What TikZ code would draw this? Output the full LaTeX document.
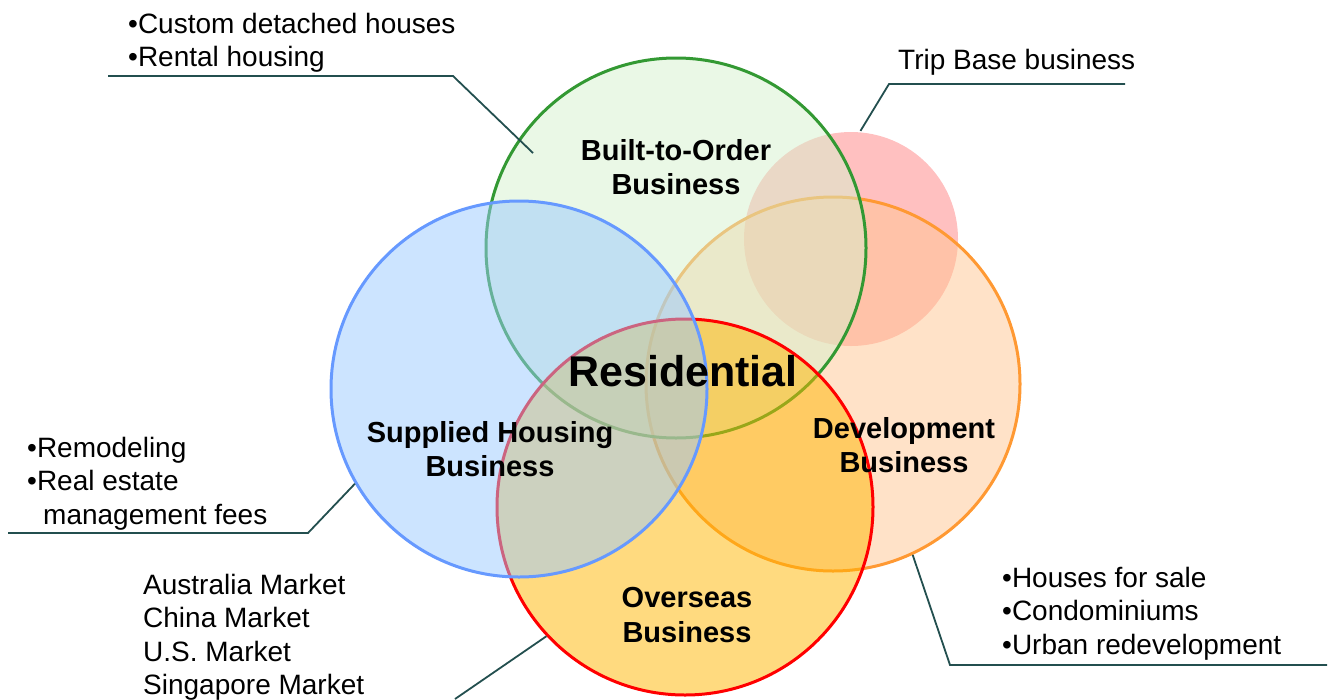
\documentclass[tikz,border=0pt]{standalone}
\usepackage{fontspec}
\setmainfont{Liberation Sans}
\usetikzlibrary{positioning}

\definecolor{leadcol}{HTML}{234F4F}
\definecolor{btofill}{HTML}{D5F1CD}
\definecolor{btoline}{HTML}{339933}
\definecolor{supfill}{HTML}{99C9FF}
\definecolor{supline}{HTML}{6699FF}
\definecolor{devfill}{HTML}{FFC591}
\definecolor{devline}{HTML}{FF9933}
\definecolor{ovsfill}{HTML}{FFB500}
\definecolor{ovsline}{HTML}{FF0000}
\definecolor{tripfill}{HTML}{FF8181}

\tikzset{
  biz/.style={circle, inner sep=0pt, line width=3pt, fill opacity=0.5, draw opacity=1},
  bizname/.style={font=\bfseries\fontsize{29}{34.5}\selectfont, align=center, inner sep=0pt},
  note/.style={font=\fontsize{28}{33.5}\selectfont, align=left, anchor=west, inner sep=0pt},
  leader/.style={draw=leadcol, line width=1.8pt}
}

\begin{document}
\begin{tikzpicture}[x=1pt, y=-1pt]
\useasboundingbox (0,0) rectangle (1329,699);

% circles, back to front
\node[biz, fill=tripfill, minimum size=214pt] (trip) at (851,239) {};
\node[biz, fill=devfill, draw=devline, minimum size=374pt] (dev) at (833,384) {};
\node[biz, fill=btofill, draw=btoline, minimum size=380pt] (bto) at (676,248) {};
\node[biz, fill=ovsfill, draw=ovsline, minimum size=376pt] (ovs) at (685,507) {};
\node[biz, fill=supfill, draw=supline, minimum size=376pt] (sup) at (519,389) {};

\node[bizname] (btoname) at (676,167) {Built-to-Order\\Business};
\node[bizname] (supname) at (490,449) {Supplied Housing\\Business};
\node[bizname] (devname) at (904,445) {Development\\Business};
\node[bizname] (ovsname) at (687,615) {Overseas\\Business};
\node[font=\bfseries\fontsize{43}{48}\selectfont, inner sep=0pt] (res) at (683,371) {Residential};

% notes
\node[note] (btonote) at (128,43) {•Custom detached houses\\•Rental housing};
\node[note] (tripnote) at (898,62) {Trip Base business};
\node[note] (supnote) at (27,483.5) {•Remodeling\\•Real estate\\\hspace*{16pt}management fees};
\node[note] (ovsnote) at (143,637) {Australia Market\\China Market\\U.S. Market\\Singapore Market};
\node[note] (devnote) at (1002,613.5) {•Houses for sale\\•Condominiums\\•Urban redevelopment};

% leader lines
\coordinate (btotip) at (533,153);
\coordinate (btobend) at (453,76);
\coordinate (btoend) at (108,76);
\coordinate (tripbend) at (889,84);
\coordinate (tripend) at (1125,84);
\coordinate (supbend) at (308,533);
\coordinate (supend) at (8,533);
\coordinate (ovsend) at (455,699);
\coordinate (devbend) at (950,665);
\coordinate (devend) at (1327,665);

\draw[leader] (btotip) -- (btobend) -- (btoend);
\draw[leader] (trip.85) -- (tripbend) -- (tripend);
\draw[leader] (sup.210) -- (supbend) -- (supend);
\draw[leader] (ovs.223) -- (ovsend);
\draw[leader] (dev.-65) -- (devbend) -- (devend);
\end{tikzpicture}
\end{document}
